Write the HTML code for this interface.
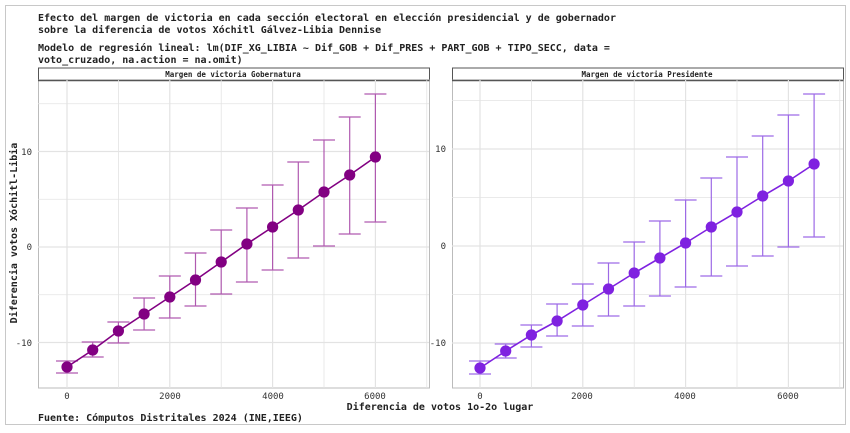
<!DOCTYPE html>
<html><head><meta charset="utf-8"><style>
html,body{margin:0;padding:0;background:#fff;}
svg{display:block;}
text{font-family:"DejaVu Sans Mono","Liberation Mono",monospace;}
</style></head><body>
<svg id="s" width="850" height="433" viewBox="0 0 850 433" xmlns="http://www.w3.org/2000/svg">
<rect x="0" y="0" width="850" height="433" fill="#fff"/>
<rect x="5.5" y="5.5" width="840" height="419" fill="#fff" stroke="#c8c8c8" stroke-width="1"/>
<g font-size="10" font-weight="bold" fill="#222">
<text x="38" y="21">Efecto del margen de victoria en cada sección electoral en elección presidencial y de gobernador</text>
<text x="38" y="33">sobre la diferencia de votos Xóchitl Gálvez-Libia Dennise</text>
<text x="38" y="51">Modelo de regresión lineal: lm(DIF_XG_LIBIA ~ Dif_GOB + Dif_PRES + PART_GOB + TIPO_SECC, data =</text>
<text x="38" y="63">voto_cruzado, na.action = na.omit)</text>
</g>
<g id="g"></g>
<g font-size="9" fill="#333">
<text x="32" y="155" text-anchor="end">10</text>
<text x="32" y="250" text-anchor="end">0</text>
<text x="32" y="346" text-anchor="end">-10</text>
<text x="67" y="399" text-anchor="middle">0</text>
<text x="170" y="399" text-anchor="middle">2000</text>
<text x="273" y="399" text-anchor="middle">4000</text>
<text x="375" y="399" text-anchor="middle">6000</text>
<text x="446" y="152" text-anchor="end">10</text>
<text x="446" y="249" text-anchor="end">0</text>
<text x="446" y="346" text-anchor="end">-10</text>
<text x="480" y="399" text-anchor="middle">0</text>
<text x="582" y="399" text-anchor="middle">2000</text>
<text x="685" y="399" text-anchor="middle">4000</text>
<text x="788" y="399" text-anchor="middle">6000</text>
</g>
<g font-size="7.5" font-weight="bold" fill="#222">
<text x="233" y="77" text-anchor="middle">Margen de victoria Gobernatura</text>
<text x="647" y="77" text-anchor="middle">Margen de victoria Presidente</text>
</g>
<g font-size="10" font-weight="bold" fill="#222">
<text x="440" y="410" text-anchor="middle">Diferencia de votos 1o-2o lugar</text>
<text x="38" y="421">Fuente: Cómputos Distritales 2024 (INE,IEEG)</text>
<text transform="translate(17,233) rotate(-90)" text-anchor="middle">Diferencia votos Xóchitl-Libia</text>
</g>
</svg>
<script>
var NS="http://www.w3.org/2000/svg",g=document.getElementById("g");
function el(t,a){var e=document.createElementNS(NS,t);for(var k in a)e.setAttribute(k,a[k]);g.appendChild(e);return e;}
function panel(x0,x1,y0,y1,xz,xs,yz,ys,pts,bars,pc,bc,title){
 el("rect",{x:x0+.5,y:y0-12,width:x1-x0,height:12,fill:"#fff",stroke:"#555","stroke-width":1});
 el("rect",{x:x0+.5,y:y0,width:x1-x0,height:y1-y0,fill:"#fff",stroke:"#bbb","stroke-width":1});
 el("line",{x1:x0,y1:y0+.5,x2:x1+.5,y2:y0+.5,stroke:"#555","stroke-width":1.5});
 for(var v=-1000;v<=8000;v+=1000){var x=xz+v*xs/1000;if(x>x0+1&&x<x1-1)el("line",{x1:x,y1:y0,x2:x,y2:y1,stroke:"#e3e3e3","stroke-width":v%2000?0.8:1.2});}
 for(var v=-15;v<=20;v+=5){var y=yz-v*ys;if(y>y0+1&&y<y1-1)el("line",{x1:x0,y1:y,x2:x1,y2:y,stroke:"#e3e3e3","stroke-width":v%10?0.8:1.2});}
 var d="";
 for(var i=0;i<pts.length;i++){var x=xz+i*500*xs/1000;
  el("line",{x1:x,y1:bars[i][0],x2:x,y2:bars[i][1],stroke:bc,"stroke-width":1.2});
  el("line",{x1:x-11,y1:bars[i][0],x2:x+11,y2:bars[i][0],stroke:bc,"stroke-width":1.2});
  el("line",{x1:x-11,y1:bars[i][1],x2:x+11,y2:bars[i][1],stroke:bc,"stroke-width":1.2});
  d+=(i?"L":"M")+x+","+pts[i];}
 el("path",{d:d,fill:"none",stroke:pc,"stroke-width":1.6});
 for(var i=0;i<pts.length;i++){var x=xz+i*500*xs/1000;el("circle",{cx:x,cy:pts[i],r:5.6,fill:pc});}
}
panel(38,429,80,388,67,51.4,247,9.55,
 [367,350,331,314,297,280,262,244,227,210,192,175,157],
 [[361,373],[342,357],[322,343],[298,330],[276,318],[253,306],[230,294],[208,282],[185,270],[162,258],[140,246],[117,234],[94,222]],
 "#820082","#b05ab0");
panel(452,843,80,388,480,51.4,246,9.7,
 [368,351,335,321,305,289,273,258,243,227,212,196,181,164],
 [[361,374],[344,358],[325,347],[304,336],[284,326],[263,316],[242,306],[221,296],[200,287],[178,276],[157,266],[136,256],[115,247],[94,237]],
 "#7f22e0","#9d6ae6");
</script>
</body></html>
